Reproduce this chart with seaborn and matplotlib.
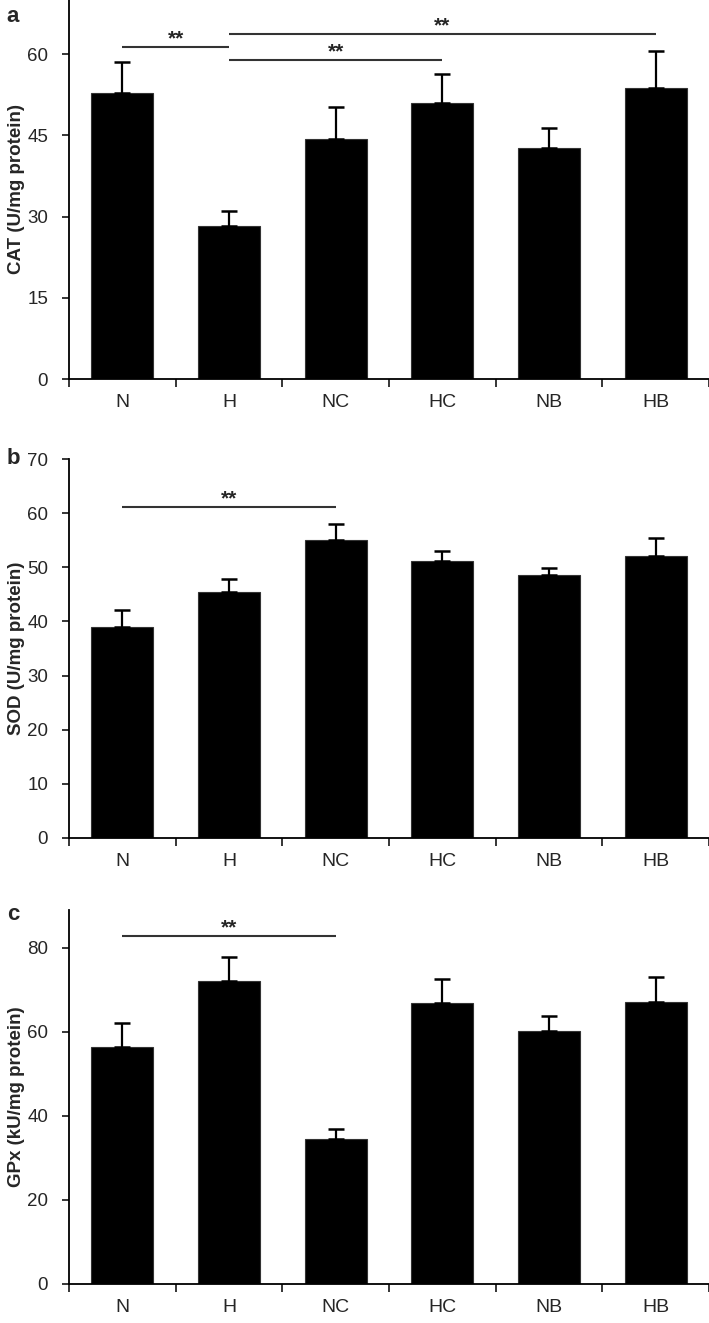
import matplotlib
matplotlib.use("Agg")
import matplotlib.pyplot as plt
import seaborn as sns
import pandas as pd

groups = ["N", "H", "NC", "HC", "NB", "HB"]

cat_mean = [52.9, 28.3, 44.3, 50.9, 42.6, 53.8]
cat_err = [5.7, 2.8, 5.9, 5.4, 3.7, 6.8]

sod_mean = [39.0, 45.4, 55.0, 51.1, 48.5, 52.0]
sod_err = [3.1, 2.5, 3.0, 2.0, 1.4, 3.4]

gpx_mean = [56.4, 72.1, 34.5, 66.8, 60.1, 67.1]
gpx_err = [5.8, 5.8, 2.4, 5.8, 3.7, 5.9]

# significance brackets: (from group, to group, height)
cat_sig = [("N", "H", 61.3), ("H", "HC", 58.9), ("H", "HB", 63.7)]
sod_sig = [("N", "NC", 61.1)]
gpx_sig = [("N", "NC", 82.8)]

panels = [
    ("a", "CAT (U/mg protein)", cat_mean, cat_err, cat_sig, 70, [0, 15, 30, 45, 60]),
    ("b", "SOD (U/mg protein)", sod_mean, sod_err, sod_sig, 70, list(range(0, 71, 10))),
    ("c", "GPx (kU/mg protein)", gpx_mean, gpx_err, gpx_sig, 89, [0, 20, 40, 60, 80]),
]

sns.set_style("ticks")
plt.rcParams["font.family"] = ["Liberation Sans", "DejaVu Sans"]

W, H = 709, 1323
fig = plt.figure(figsize=(W / 100, H / 100), dpi=100)

# axes boxes in pixels: (top, bottom)
boxes = [(0, 379), (459, 838), (910, 1284)]
letter_y = [17, 459, 914]
left, right = 69, 709

for (letter, ylabel, mean, err, sig, ytop, yticks), (top, bot), ly in zip(panels, boxes, letter_y):
    ax = fig.add_axes([left / W, 1 - bot / H, (right - left) / W, (bot - top) / H])
    df = pd.DataFrame({"group": groups, "value": mean})
    sns.barplot(data=df, x="group", y="value", order=groups, color="black",
                saturation=1, width=0.58, errorbar=None, edgecolor="#333333",
                linewidth=0.8, ax=ax)
    ax.errorbar(range(len(groups)), mean, yerr=[[0] * len(err), err], fmt="none",
                ecolor="black", elinewidth=1.6, capsize=6, capthick=1.8, zorder=1)

    for g1, g2, y in sig:
        x1, x2 = groups.index(g1), groups.index(g2)
        ax.plot([x1, x2], [y, y], color="#333333", lw=1.5, solid_capstyle="butt")
        ax.annotate("**", xy=((x1 + x2) / 2, y), xytext=(0, 6),
                    textcoords="offset points", ha="center", va="center",
                    fontsize=15, fontweight="bold")

    ax.set_xlim(-0.5, len(groups) - 0.5)
    ax.set_ylim(0, ytop)
    ax.set_yticks(yticks)
    ax.tick_params(axis="y", length=5, width=1.3, pad=10, labelsize=13.5)

    # tick marks between categories, labels at the centres
    ax.set_xticks([i - 0.5 for i in range(len(groups) + 1)])
    ax.set_xticklabels([])
    ax.set_xticks(range(len(groups)), minor=True)
    ax.set_xticklabels(groups, minor=True)
    ax.tick_params(axis="x", which="major", length=6, width=1.3)
    ax.tick_params(axis="x", which="minor", length=0, pad=11, labelsize=14)

    ax.set_xlabel("")
    ax.set_ylabel(ylabel, fontsize=13.5, fontweight="bold")
    ax.yaxis.set_label_coords(-0.068, 0.5)

    sns.despine(ax=ax)
    for s in ["left", "bottom"]:
        ax.spines[s].set_linewidth(1.3)
        ax.spines[s].set_color("black")

    fig.text(13 / W, 1 - ly / H, letter, fontsize=16, fontweight="bold",
             ha="center", va="center")

fig.savefig("out.png", dpi=100)
